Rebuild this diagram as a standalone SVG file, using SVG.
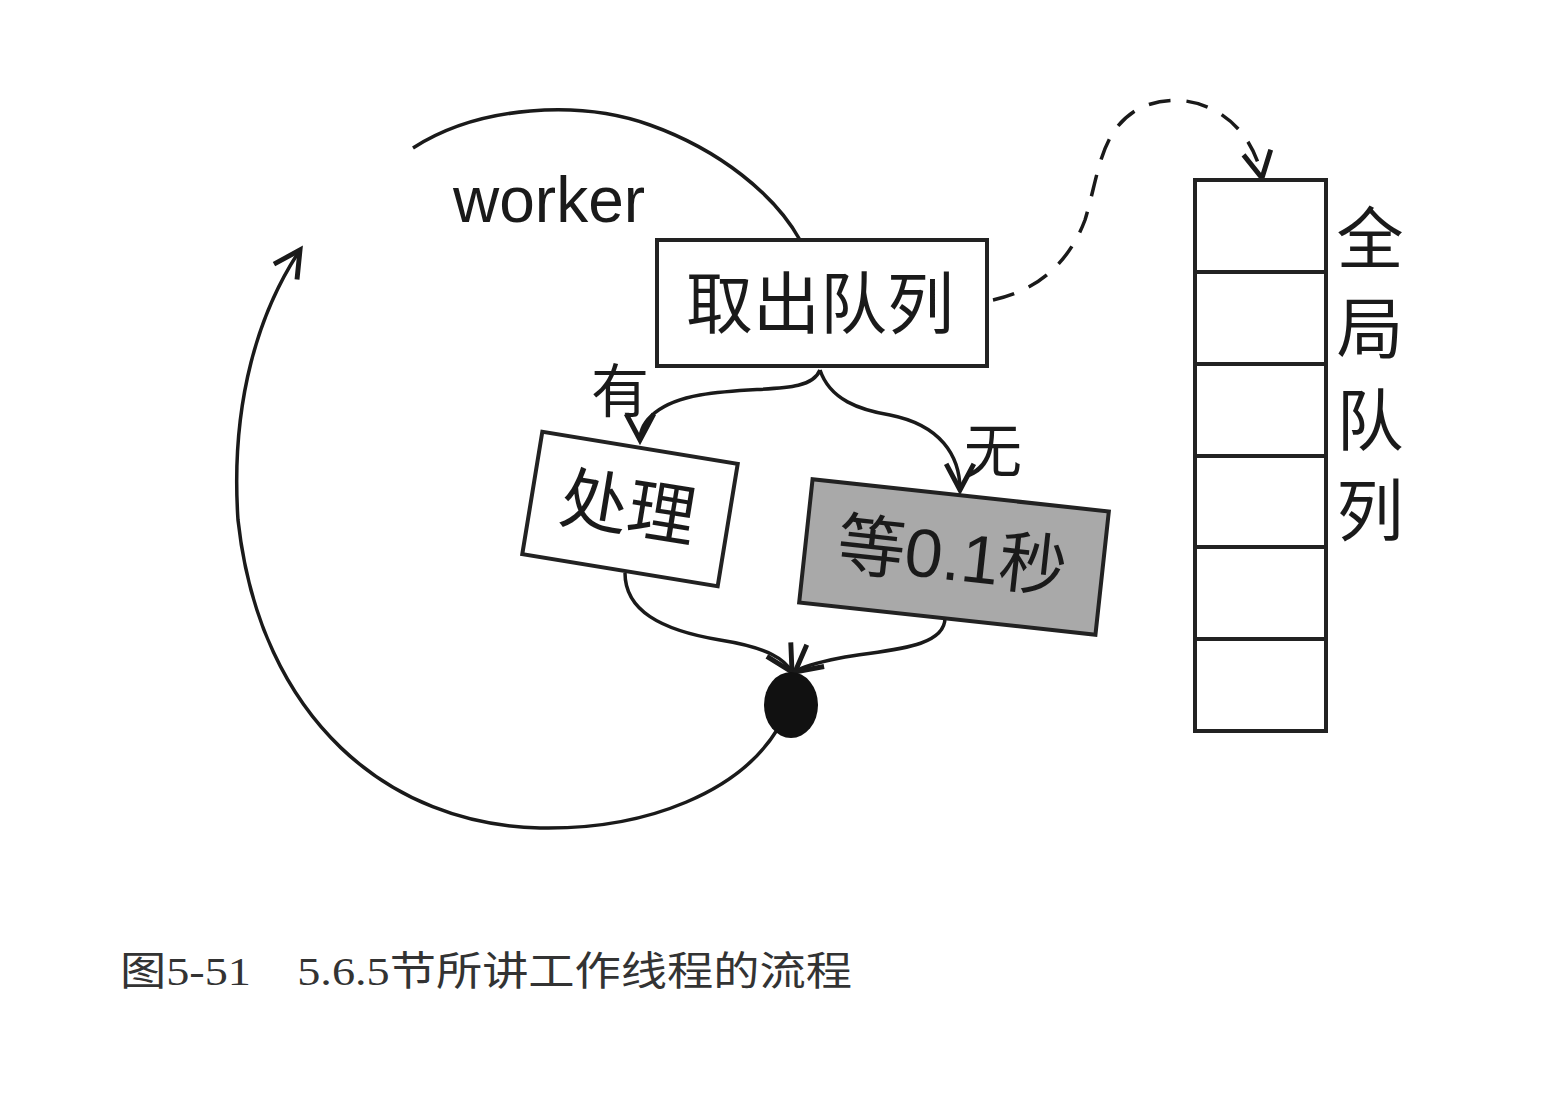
<svg xmlns="http://www.w3.org/2000/svg" width="1568" height="1094" viewBox="0 0 1568 1094">
<defs>
<style>
.box{fill:#fff;stroke:#222;stroke-width:4}
.gray{fill:#a9a9a9;stroke:#222;stroke-width:4}
.edge{fill:none;stroke:#1a1a1a;stroke-width:3.5}
.dash{fill:none;stroke:#1a1a1a;stroke-width:3.5;stroke-dasharray:22 16}
.lbl{font-family:"Liberation Sans","Noto Sans CJK SC",sans-serif;fill:#1a1a1a}
.cap{font-family:"Liberation Serif","Noto Sans CJK SC",serif;fill:#333}
</style>
<marker id="arr" markerUnits="userSpaceOnUse" markerWidth="40" markerHeight="40" viewBox="-22 -12 26 24" refX="0" refY="0" orient="auto">
<path d="M-17,-9 L0,0 L-17,9" fill="none" stroke="#1a1a1a" stroke-width="3.2"/>
</marker>
</defs>
<rect width="1568" height="1094" fill="#fff"/>
<g id="connectors">
<path class="edge" d="M413,148 C480,105 580,100 650,125 C720,150 775,195 800,240"/>
<path class="edge" d="M777,730 C740,790 650,830 540,828 C390,825 260,720 238,520 C230,400 260,310 300,250" marker-end="url(#arr)"/>
<path class="edge" d="M820,370 C810,395 760,385 700,395 C660,402 640,420 640,440" marker-end="url(#arr)"/>
<path class="edge" d="M820,370 C830,400 860,410 890,415 C940,425 960,455 960,490" marker-end="url(#arr)"/>
<path class="edge" d="M625,573 C625,610 660,630 720,640 C770,648 785,660 792,672" marker-end="url(#arr)"/>
<path class="edge" d="M945,618 C945,650 880,650 840,658 C815,663 800,668 795,672" marker-end="url(#arr)"/>
<path class="dash" d="M993,300 C1040,290 1070,260 1085,220 C1100,170 1100,130 1140,108 C1190,85 1250,115 1262,178" marker-end="url(#arr)"/>
</g>
<g id="worker-label"><text class="lbl" x="453" y="222" font-size="64">worker</text></g>
<g id="take-queue">
<rect class="box" x="657" y="240" width="330" height="126"/>
<text class="lbl" x="820" y="328" font-size="67" text-anchor="middle">取出队列</text>
</g>
<g id="label-you"><text class="lbl" x="620" y="412" font-size="58" text-anchor="middle">有</text></g>
<g id="label-wu"><text class="lbl" x="993" y="472" font-size="58" text-anchor="middle">无</text></g>
<g id="process" transform="rotate(9.3 630 509)">
<rect class="box" x="531" y="447" width="198" height="124"/>
<text class="lbl" x="628" y="532" font-size="68" text-anchor="middle">处理</text>
</g>
<g id="wait" transform="rotate(6.2 954 557)">
<rect class="gray" x="805" y="495" width="298" height="124"/>
<text class="lbl" x="952" y="580" font-size="68" text-anchor="middle">等0.1秒</text>
</g>
<g id="join"><ellipse cx="791" cy="705" rx="27" ry="33" fill="#111"/></g>
<g id="global-queue">
<rect class="box" x="1195" y="180" width="131" height="551"/>
<line x1="1195" y1="272" x2="1326" y2="272" stroke="#222" stroke-width="4"/>
<line x1="1195" y1="364" x2="1326" y2="364" stroke="#222" stroke-width="4"/>
<line x1="1195" y1="456" x2="1326" y2="456" stroke="#222" stroke-width="4"/>
<line x1="1195" y1="547" x2="1326" y2="547" stroke="#222" stroke-width="4"/>
<line x1="1195" y1="639" x2="1326" y2="639" stroke="#222" stroke-width="4"/>
<text class="lbl" x="1370" y="263" font-size="67" text-anchor="middle">全</text>
<text class="lbl" x="1370" y="353" font-size="67" text-anchor="middle">局</text>
<text class="lbl" x="1370" y="445" font-size="67" text-anchor="middle">队</text>
<text class="lbl" x="1370" y="535" font-size="67" text-anchor="middle">列</text>
</g>
<g id="caption"><text class="cap" x="120" y="985" font-size="40" textLength="732" lengthAdjust="spacingAndGlyphs">图5-51　5.6.5节所讲工作线程的流程</text></g>
</svg>
